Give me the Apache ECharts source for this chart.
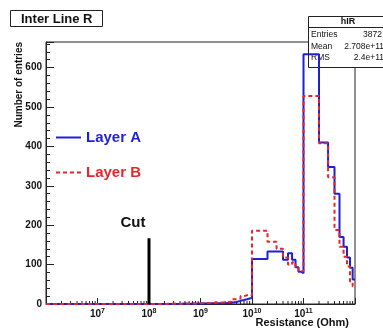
<!DOCTYPE html>
<html>
<head>
<meta charset="utf-8">
<script src="https://cdn.jsdelivr.net/npm/echarts@6/dist/echarts.min.js"></script>
<style>
  html, body { margin: 0; padding: 0; background: #fff; }
  #main { width: 383px; height: 330px; }
</style>
</head>
<body>
<div id="main"></div>
<script>
// bin layout: per decade 1..9 x 10^d (log10 of resistance on the axis)
var decades = [6, 7, 8, 9, 10, 11];
var binMult = [1, 2, 3, 4, 5, 6, 7, 8, 9];
var minorMult = [2, 3, 4, 5, 6, 7, 8, 9];
var tickLabels = ['7', '8', '9', '10', '11'];

// entries per bin, one row per decade
var layerA = [
    [0, 0, 0, 0, 0, 0, 0, 0, 0],
    [0, 0, 0, 0, 0, 0, 0, 0, 0],
    [0, 0, 0, 1, 0, 1, 0, 1, 1],
    [2, 2, 3, 5, 8, 10, 12, 14, 15],
    [114, 133, 133, 112, 129, 112, 93, 82, 78],
    [634, 410, 348, 280, 170, 145, 118, 92, 62]
];
var layerB = [
    [0, 0, 0, 0, 0, 0, 0, 0, 0],
    [0, 0, 0, 0, 0, 0, 0, 0, 0],
    [0, 1, 0, 1, 1, 1, 1, 2, 2],
    [3, 4, 6, 12, 14, 20, 22, 24, 22],
    [186, 158, 140, 118, 100, 106, 90, 82, 84],
    [528, 408, 322, 188, 145, 120, 95, 57, 45]
];
var cutX = 8;      // 10^8 Ohm
var cutHeight = 167;

var font = 'Liberation Sans, Arial, Helvetica, sans-serif';

function histPoints(counts) {
    var pts = [];
    decades.forEach(function (d, i) {
        binMult.forEach(function (m, j) {
            pts.push([d + Math.log10(m), counts[i][j]]);
        });
    });
    var last = counts[counts.length - 1];
    pts.push([12, last[last.length - 1]]);
    return pts;
}

var minorTicks = [];
decades.forEach(function (d) {
    minorMult.forEach(function (m) {
        minorTicks.push([d + Math.log10(m), 0]);
    });
});

var chart = echarts.init(document.getElementById('main'));

var option = {
    animation: false,
    grid: {
        left: 46, right: 28, top: 42, bottom: 26,
        show: true, borderColor: '#222', borderWidth: 1
    },
    legend: {
        orient: 'vertical',
        left: 50, top: 125,
        itemWidth: 25, itemHeight: 14, itemGap: 20,
        selectedMode: false,
        itemStyle: { opacity: 0 },
        textStyle: { fontFamily: font, fontSize: 15, fontWeight: 'bold' },
        data: [
            { name: 'Layer A', textStyle: { color: '#1f1fd6' } },
            { name: 'Layer B', textStyle: { color: '#e8262a' } }
        ]
    },
    xAxis: {
        type: 'value',
        min: 6, max: 12, interval: 1,
        axisLine: { show: true, lineStyle: { color: '#222', width: 1 } },
        axisTick: { show: true, inside: true, length: 6, lineStyle: { color: '#222' } },
        splitLine: { show: false },
        axisLabel: {
            margin: 4,
            formatter: function (v) {
                var e = String(Math.round(v));
                if (tickLabels.indexOf(e) < 0) return '';
                return '{b|10}{e|' + e + '}';
            },
            rich: {
                b: { fontFamily: font, fontSize: 10, fontWeight: 'bold', color: '#111' },
                e: { fontFamily: font, fontSize: 7, fontWeight: 'bold', color: '#111', verticalAlign: 'top', padding: [0, 0, 6, 0] }
            }
        }
    },
    yAxis: {
        type: 'value',
        min: 0, max: 665, interval: 100,
        axisLine: { show: true, lineStyle: { color: '#222', width: 1 } },
        axisTick: { show: true, inside: true, length: 8, lineStyle: { color: '#222' } },
        minorTick: { show: true, splitNumber: 5, length: 4, lineStyle: { color: '#222' } },
        splitLine: { show: false },
        axisLabel: {
            margin: 4,
            fontFamily: font, fontSize: 10, fontWeight: 'bold', color: '#111',
            formatter: function (v) { return v % 100 === 0 ? String(v) : ''; }
        }
    },
    series: [
        {
            type: 'custom',
            silent: true,
            data: minorTicks,
            renderItem: function (params, api) {
                var p = api.coord([api.value(0), 0]);
                return {
                    type: 'line',
                    shape: { x1: p[0], y1: p[1], x2: p[0], y2: p[1] - 3 },
                    style: { stroke: '#222', lineWidth: 1 }
                };
            }
        },
        {
            name: 'Layer A',
            type: 'line',
            step: 'end',
            symbol: 'none',
            data: histPoints(layerA),
            lineStyle: { color: '#1f1fd6', width: 2 },
            itemStyle: { color: '#1f1fd6' }
        },
        {
            name: 'Layer B',
            type: 'line',
            step: 'end',
            symbol: 'none',
            data: histPoints(layerB),
            lineStyle: { color: '#e8262a', width: 2, type: [4, 3] },
            itemStyle: { color: '#e8262a' }
        },
        {
            name: 'Cut',
            type: 'line',
            symbol: 'none',
            silent: true,
            data: [[cutX, 0], [cutX, cutHeight]],
            lineStyle: { color: '#000', width: 3 }
        }
    ]
};
chart.setOption(option);

var cutTop = chart.convertToPixel({ gridIndex: 0 }, [cutX, cutHeight]);

chart.setOption({
    graphic: [
        // title box
        { type: 'rect', shape: { x: 10.5, y: 10.5, width: 92, height: 16 },
          style: { fill: '#fff', stroke: '#222', lineWidth: 1 } },
        { type: 'text', x: 21, y: 19,
          style: { text: 'Inter Line R', fontFamily: font, fontSize: 13, fontWeight: 'bold',
                   fill: '#111', verticalAlign: 'middle' } },
        // stats box
        { type: 'rect', shape: { x: 308.5, y: 16.5, width: 90, height: 51 },
          style: { fill: '#fff', stroke: '#222', lineWidth: 1 } },
        { type: 'line', shape: { x1: 308, y1: 27.5, x2: 383, y2: 27.5 },
          style: { stroke: '#222', lineWidth: 1 } },
        { type: 'text', x: 348, y: 22,
          style: { text: 'hIR', fontFamily: font, fontSize: 9, fontWeight: 'bold',
                   fill: '#111', align: 'center', verticalAlign: 'middle' } },
        { type: 'text', x: 311, y: 35,
          style: { text: 'Entries', fontFamily: font, fontSize: 8.5, fill: '#111', verticalAlign: 'middle' } },
        { type: 'text', x: 382, y: 35,
          style: { text: '3872', fontFamily: font, fontSize: 8.5, fill: '#111', align: 'right', verticalAlign: 'middle' } },
        { type: 'text', x: 311, y: 47,
          style: { text: 'Mean', fontFamily: font, fontSize: 8.5, fill: '#111', verticalAlign: 'middle' } },
        { type: 'text', x: 384, y: 47,
          style: { text: '2.708e+11', fontFamily: font, fontSize: 8.5, fill: '#111', align: 'right', verticalAlign: 'middle' } },
        { type: 'text', x: 311, y: 58,
          style: { text: 'RMS', fontFamily: font, fontSize: 8.5, fill: '#111', verticalAlign: 'middle' } },
        { type: 'text', x: 384, y: 58,
          style: { text: '2.4e+11', fontFamily: font, fontSize: 8.5, fill: '#111', align: 'right', verticalAlign: 'middle' } },
        // axis titles
        { type: 'text', x: 19, y: 42, rotation: Math.PI / 2,
          style: { text: 'Number of entries', fontFamily: font, fontSize: 10, fontWeight: 'bold',
                   fill: '#111', align: 'right', verticalAlign: 'middle' } },
        { type: 'text', x: 349, y: 323,
          style: { text: 'Resistance (Ohm)', fontFamily: font, fontSize: 11, fontWeight: 'bold',
                   fill: '#111', align: 'right', verticalAlign: 'middle' } },
        // cut label
        { type: 'text', x: cutTop[0] - 16, y: cutTop[1] - 15,
          style: { text: 'Cut', fontFamily: font, fontSize: 15, fontWeight: 'bold',
                   fill: '#111', align: 'center', verticalAlign: 'middle' } }
    ]
});
</script>
</body>
</html>
